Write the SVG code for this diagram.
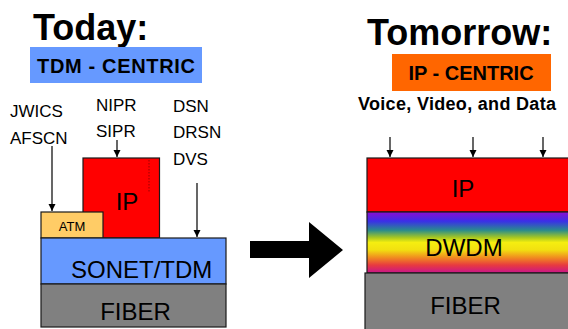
<svg xmlns="http://www.w3.org/2000/svg" width="568" height="329" viewBox="0 0 568 329">
  <style>
    text { font-family: "Liberation Sans", Arial, sans-serif; fill: #000; }
    .title { font-size: 36px; font-weight: bold; }
    .badge { font-size: 20px; font-weight: bold; }
    .label { font-size: 17px; }
    .layer { stroke: #1a1a1a; stroke-width: 1.2; }
    .big { font-size: 24px; }
    .conn { stroke: #000; stroke-width: 1.2; fill: none; marker-end: url(#tip); }
  </style>
  <defs>
    <marker id="tip" markerUnits="userSpaceOnUse" markerWidth="8" markerHeight="8" refX="7" refY="3.5" orient="auto">
      <path d="M0,0 L7,3.5 L0,7 Z" fill="#000"/>
    </marker>
    <linearGradient id="rainbow" x1="0" y1="0" x2="0" y2="1">
      <stop offset="0" stop-color="#8E0CCF"/>
      <stop offset="0.15" stop-color="#3A2FE8"/>
      <stop offset="0.3" stop-color="#2A8C8C"/>
      <stop offset="0.42" stop-color="#A8C820"/>
      <stop offset="0.5" stop-color="#F5EE10"/>
      <stop offset="0.62" stop-color="#F2E010"/>
      <stop offset="0.75" stop-color="#F08A20"/>
      <stop offset="0.87" stop-color="#E83A40"/>
      <stop offset="1" stop-color="#C8148C"/>
    </linearGradient>
  </defs>

  <!-- Left: current TDM-centric stack -->
  <g id="today-title">
    <text class="title" x="33" y="40">Today:</text>
  </g>
  <g id="tdm-centric">
    <rect x="30" y="47" width="172" height="36" fill="#6699FF"/>
    <text class="badge" x="116" y="73" text-anchor="middle" textLength="158">TDM - CENTRIC</text>
  </g>
  <g id="labels-left">
    <text class="label" x="10" y="117">JWICS</text>
    <text class="label" x="10" y="144">AFSCN</text>
    <text class="label" x="96" y="111">NIPR</text>
    <text class="label" x="96" y="137">SIPR</text>
    <text class="label" x="173" y="112">DSN</text>
    <text class="label" x="173" y="138">DRSN</text>
    <text class="label" x="173" y="165">DVS</text>
  </g>
  <g id="ip-left">
    <rect class="layer" x="83" y="158" width="76.5" height="80" fill="#FF0000"/>
    <line x1="149" y1="160" x2="149" y2="193" stroke="#990000" stroke-width="1" stroke-dasharray="1.5,1.5"/>
    <text class="big" x="127" y="210" text-anchor="middle" font-size="27">IP</text>
  </g>
  <g id="atm">
    <rect class="layer" x="41" y="212" width="62" height="26" fill="#FFCC66"/>
    <text x="72" y="231" text-anchor="middle" font-size="13">ATM</text>
  </g>
  <g id="sonet-tdm">
    <rect class="layer" x="41" y="238" width="185" height="46" fill="#6699FF"/>
    <text class="big" x="71" y="278">SONET/TDM</text>
  </g>
  <g id="fiber-left">
    <rect class="layer" x="41" y="284" width="185" height="43" fill="#808080"/>
    <text class="big" x="135.5" y="320" text-anchor="middle">FIBER</text>
  </g>

  <!-- Transition arrow -->
  <g id="transition">
    <path d="M250,241 L309,241 L309,222 L343,250 L309,278 L309,258 L250,258 Z" fill="#000"/>
  </g>

  <!-- Right: future IP-centric stack -->
  <g id="tomorrow-title">
    <text class="title" x="367" y="45">Tomorrow:</text>
  </g>
  <g id="ip-centric">
    <rect x="392" y="54" width="159" height="37" fill="#FF6600"/>
    <text class="badge" x="471" y="80" text-anchor="middle" font-size="21">IP - CENTRIC</text>
  </g>
  <g id="services">
    <text x="358" y="110" font-size="18" font-weight="bold" textLength="198">Voice, Video, and Data</text>
  </g>
  <g id="ip-right">
    <rect class="layer" x="367" y="158" width="210" height="54" fill="#FF0000"/>
    <text class="big" x="463" y="197" text-anchor="middle">IP</text>
  </g>
  <g id="dwdm">
    <rect class="layer" x="367" y="212" width="210" height="61" fill="url(#rainbow)"/>
    <text class="big" x="464" y="256" text-anchor="middle">DWDM</text>
  </g>
  <g id="fiber-right">
    <rect class="layer" x="365" y="273" width="212" height="60" fill="#808080"/>
    <text class="big" x="465.5" y="314" text-anchor="middle">FIBER</text>
  </g>

  <!-- Connectors -->
  <g id="connectors">
    <line class="conn" x1="52" y1="146" x2="52" y2="211"/>
    <line class="conn" x1="117" y1="140" x2="117" y2="157"/>
    <line class="conn" x1="197" y1="183" x2="197" y2="237"/>
    <line class="conn" x1="390" y1="137" x2="390" y2="157"/>
    <line class="conn" x1="473" y1="137" x2="473" y2="157"/>
    <line class="conn" x1="543" y1="137" x2="543" y2="157"/>
  </g>
</svg>
